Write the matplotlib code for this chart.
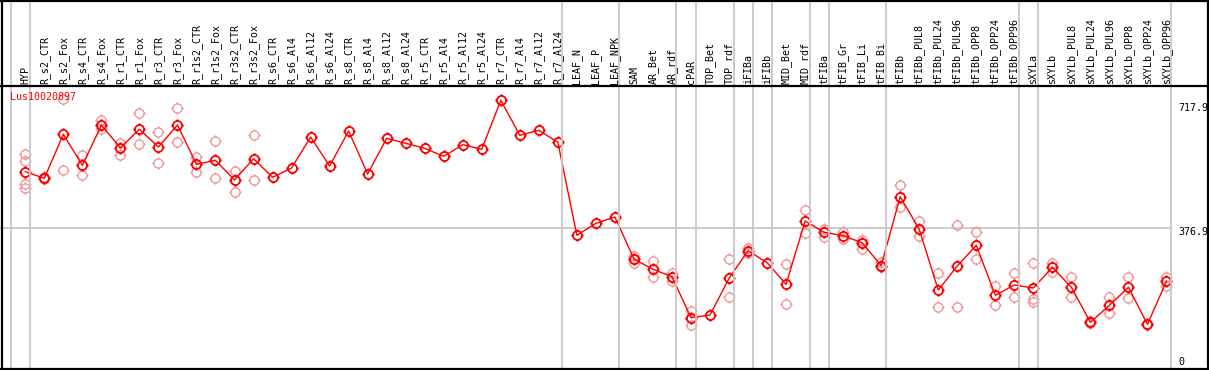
import matplotlib
matplotlib.use("Agg")
import matplotlib.pyplot as plt
import matplotlib.transforms as mtransforms
from matplotlib.path import Path
from matplotlib.lines import Line2D
import numpy as np

# ---------------- data ----------------
gene_name = "Lus10020897"

categories = [
    "HYP",
    "R_s2_CTR", "R_s2_Fox", "R_s4_CTR", "R_s4_Fox", "R_r1_CTR", "R_r1_Fox",
    "R_r3_CTR", "R_r3_Fox", "R_r1s2_CTR", "R_r1s2_Fox", "R_r3s2_CTR", "R_r3s2_Fox",
    "R_s6_CTR", "R_s6_Al4", "R_s6_Al12", "R_s6_Al24", "R_s8_CTR", "R_s8_Al4",
    "R_s8_Al12", "R_s8_Al24", "R_r5_CTR", "R_r5_Al4", "R_r5_Al12", "R_r5_Al24",
    "R_r7_CTR", "R_r7_Al4", "R_r7_Al12", "R_r7_Al24",
    "LEAF_N", "LEAF_P", "LEAF_NPK",
    "SAM", "AR_Bet", "AR_rdf",
    "cPAR",
    "TOP_Bet", "TOP_rdf",
    "iFIBa",
    "iFIBb",
    "MID_Bet", "MID_rdf",
    "tFIBa",
    "tFIB_Gr", "tFIB_Li", "tFIB_Bi",
    "tFIBb", "tFIBb_PUL8", "tFIBb_PUL24", "tFIBb_PUL96", "tFIBb_OPP8", "tFIBb_OPP24", "tFIBb_OPP96",
    "sXYLa",
    "sXYLb", "sXYLb_PUL8", "sXYLb_PUL24", "sXYLb_PUL96", "sXYLb_OPP8", "sXYLb_OPP24", "sXYLb_OPP96",
]

# number of categories in each separated group
group_sizes = [1, 28, 3, 3, 1, 2, 1, 1, 2, 1, 3, 7, 1, 7]

mean_values = [
    527.7,
    510.1, 627.3, 544.7, 651.3, 591.6, 640.6,
    593.5, 652.1, 547.4, 558.0, 505.6, 562.3,
    512.8, 537.5, 620.1, 542.9, 636.1, 521.5,
    616.6, 603.3, 590.0, 568.7, 599.6, 587.3,
    717.9, 624.6, 638.0, 606.0,
    358.3, 390.2, 407.0,
    295.1, 267.7, 248.0,
    138.8,
    145.9, 243.7,
    317.2,
    285.3,
    227.7, 396.3,
    366.2,
    357.2, 338.3, 277.3,
    461.1, 374.2, 212.5, 276.5, 331.6, 198.4, 225.9,
    217.9,
    273.0, 219.7, 126.5, 171.8, 219.7, 121.2, 236.5,
]

replicate_values = [
    [574.0, 556.2, 494.1, 485.1],
    [507.0, 513.0], [720.5, 531.4], [572.2, 518.1], [664.6, 642.2, 651.0], [604.9, 572.2], [683.2, 600.7],
    [634.2, 550.0], [696.6, 606.8], [567.6, 527.7], [609.5, 510.1], [530.3, 474.4], [625.4, 504.8],
    [], [], [], [], [], [],
    [], [], [], [], [], [],
    [], [], [], [],
    [], [], [],
    [303.1, 285.3, 295.0], [289.8, 248.0], [257.0, 237.3],
    [156.6, 119.3, 138.0],
    [], [294.3, 193.1],
    [323.6, 310.3],
    [],
    [281.0, 174.5], [424.8, 363.6],
    [375.0, 354.5],
    [366.2, 348.4], [345.7, 321.8, 338.0], [287.9, 273.0, 276.0],
    [492.2, 432.8], [396.3, 356.4], [257.0, 166.5], [385.7, 166.5], [367.0, 295.1], [223.2, 171.8], [257.0, 193.9],
    [283.7, 187.8, 181.4],
    [285.3, 261.3], [246.4, 193.1], [124.0, 129.0], [193.1, 150.5], [246.4, 190.4], [119.0, 123.0], [246.4, 223.2],
]

y_tick_values = [717.9, 376.9, 0]
y_tick_labels = ["717.9", "376.9", "0"]

# ---------------- figure ----------------
W, H = 1209, 370
fig = plt.figure(figsize=(W / 100, H / 100), dpi=100)

header_px = 85.5
ax = fig.add_axes([0, 0, 1, (H - header_px) / H])
n = len(categories)
x = np.arange(n)
ax.set_xlim(-1.330, 62.235)
ax.set_ylim(-0.53, 757.3)
ax.axis("off")

grid_col = "#c8c8c8"
red = "#ff0000"
pink = "#f09898"

# horizontal grid line at middle tick
sep_off = 0.237
last_sep = n - 1 + sep_off
ax.plot([-1.330, last_sep], [y_tick_values[1]] * 2, color=grid_col, lw=1.3, zorder=1)

# group separators (full figure height)
blend = mtransforms.blended_transform_factory(ax.transData, fig.transFigure)
bounds = np.cumsum([0] + group_sizes) - 1
for b in bounds:
    fig.add_artist(Line2D([b + sep_off] * 2, [0, 1], transform=blend,
                          color=grid_col, lw=1.3, zorder=1))

# custom marker: circle with 4 small stubs
circle = Path.unit_circle()
stub_len = 1.35
stubs = [Path([(0, 1), (0, stub_len)], [Path.MOVETO, Path.LINETO]),
         Path([(0, -1), (0, -stub_len)], [Path.MOVETO, Path.LINETO]),
         Path([(1, 0), (stub_len, 0)], [Path.MOVETO, Path.LINETO]),
         Path([(-1, 0), (-stub_len, 0)], [Path.MOVETO, Path.LINETO])]
mk = Path.make_compound_path(circle, *stubs)

# replicates
for i, reps in enumerate(replicate_values):
    if reps:
        ax.plot([i] * len(reps), reps, linestyle="none", marker=mk, markersize=8.8,
                mfc="none", mec=pink, mew=1.0, zorder=2)

# mean line
ax.plot(x, mean_values, color=red, lw=1.0, marker=mk, markersize=8.8,
        mfc="none", mec=red, mew=1.3, zorder=3)

# gene label
mono = "DejaVu Sans Mono"
fig.text(10 / W, 1 - 97 / H, gene_name, color=red, fontsize=7.2, family=mono,
         ha="left", va="center")

# header labels
for i, lab in enumerate(categories):
    ax.text(i, 1 - 83.5 / H, lab, transform=blend, rotation=90, ha="center",
            va="bottom", fontsize=7.2, family=mono, color="black")

# y tick labels at right
xt = 1178 / W
tick_offsets = [-7.5, -3.5, 7.5]  # pixel offsets of text centre from value line
for v, lab, off in zip(y_tick_values, y_tick_labels, tick_offsets):
    tr = mtransforms.blended_transform_factory(ax.transAxes, ax.transData) + \
        mtransforms.ScaledTranslation(0, off / 100, fig.dpi_scale_trans)
    ax.text(xt, v, lab, transform=tr, ha="left", va="center", fontsize=7.2,
            family=mono, color="black", clip_on=False)

# black frame and header separator
frame_kw = dict(color="black", lw=1.6, zorder=5)
fig.add_artist(Line2D([0, 1], [1 - 0.8 / H] * 2, transform=fig.transFigure, **frame_kw))
fig.add_artist(Line2D([0, 1], [1.0 / H] * 2, transform=fig.transFigure, **frame_kw))
fig.add_artist(Line2D([1.5 / W] * 2, [0, 1], transform=fig.transFigure, **frame_kw))
fig.add_artist(Line2D([1 - 1.0 / W] * 2, [0, 1], transform=fig.transFigure, **frame_kw))
fig.add_artist(Line2D([0, 1], [1 - header_px / H] * 2, transform=fig.transFigure, **frame_kw))

fig.savefig("out.png", dpi=100)
